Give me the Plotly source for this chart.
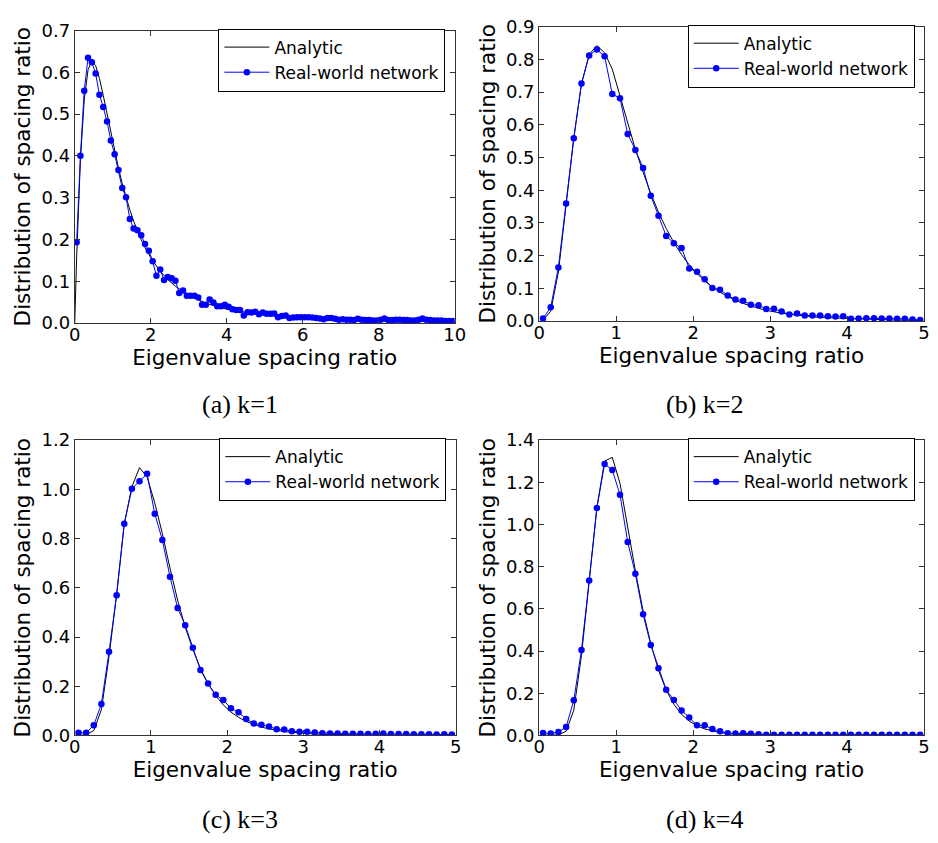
import plotly.graph_objects as go

# ---------------- data ----------------
# (a) k=1 : bin centres 0.05 ... 9.95
x_a = [round(0.05 + 0.1 * i, 2) for i in range(100)]
real_a = [0.193, 0.400, 0.556, 0.635, 0.624, 0.597, 0.546, 0.517, 0.482, 0.437,
          0.404, 0.366, 0.323, 0.301, 0.249, 0.226, 0.222, 0.210, 0.189, 0.173,
          0.148, 0.113, 0.128, 0.103, 0.110, 0.107, 0.101, 0.072, 0.078, 0.065,
          0.065, 0.065, 0.061, 0.044, 0.044, 0.056, 0.049, 0.040, 0.040, 0.044,
          0.039, 0.033, 0.031, 0.031, 0.018, 0.026, 0.025, 0.027, 0.021, 0.025,
          0.022, 0.022, 0.023, 0.014, 0.017, 0.018, 0.012, 0.013, 0.014, 0.014,
          0.014, 0.014, 0.013, 0.012, 0.011, 0.009, 0.012, 0.012, 0.010, 0.008,
          0.009, 0.008, 0.008, 0.007, 0.010, 0.008, 0.007, 0.007, 0.006, 0.006,
          0.008, 0.011, 0.007, 0.007, 0.008, 0.008, 0.007, 0.007, 0.006, 0.006,
          0.008, 0.011, 0.008, 0.007, 0.006, 0.006, 0.006, 0.005, 0.005, 0.005]
xan_a = [0, 0.05, 0.15, 0.25, 0.35, 0.45, 0.55, 0.65, 0.75, 0.85, 0.95, 1.05,
         1.15, 1.25, 1.35, 1.45, 1.55, 1.65, 1.75, 1.85, 1.95, 2.05, 2.25, 2.45,
         2.65, 2.85, 3.05, 3.5, 4, 5, 6, 7, 8, 9, 10]
an_a = [0.0, 0.156, 0.391, 0.534, 0.606, 0.627, 0.616, 0.585, 0.545, 0.500,
        0.455, 0.412, 0.371, 0.334, 0.301, 0.271, 0.244, 0.221, 0.199, 0.180,
        0.164, 0.149, 0.124, 0.104, 0.088, 0.075, 0.064, 0.046, 0.033, 0.019,
        0.012, 0.008, 0.005, 0.004, 0.003]

# (b)-(d) : bin centres 0.05 ... 4.95
x_5 = [round(0.05 + 0.1 * i, 2) for i in range(50)]
real_b = [0.008, 0.042, 0.164, 0.359, 0.559, 0.726, 0.812, 0.830, 0.809, 0.694,
          0.681, 0.572, 0.523, 0.468, 0.383, 0.322, 0.260, 0.238, 0.223, 0.161,
          0.151, 0.128, 0.101, 0.096, 0.078, 0.066, 0.062, 0.050, 0.048, 0.037,
          0.038, 0.029, 0.020, 0.023, 0.017, 0.017, 0.017, 0.015, 0.014, 0.015,
          0.007, 0.008, 0.009, 0.009, 0.008, 0.008, 0.007, 0.007, 0.005, 0.003]
an_b = [0.002, 0.030, 0.150, 0.350, 0.560, 0.725, 0.815, 0.842, 0.820, 0.770,
        0.690, 0.605, 0.525, 0.455, 0.390, 0.333, 0.283, 0.240, 0.203, 0.172,
        0.145, 0.123, 0.104, 0.088, 0.075, 0.063, 0.054, 0.046, 0.039, 0.033,
        0.028, 0.024, 0.021, 0.018, 0.015, 0.013, 0.011, 0.010, 0.009, 0.008,
        0.007, 0.006, 0.005, 0.0045, 0.004, 0.0035, 0.003, 0.0027, 0.0024, 0.002]
real_c = [0.011, 0.011, 0.042, 0.128, 0.340, 0.570, 0.860, 1.002, 1.033, 1.063,
          0.901, 0.794, 0.645, 0.518, 0.448, 0.356, 0.266, 0.211, 0.165, 0.144,
          0.111, 0.094, 0.067, 0.049, 0.044, 0.037, 0.025, 0.024, 0.017, 0.015,
          0.015, 0.012, 0.009, 0.008, 0.008, 0.007, 0.007, 0.007, 0.006, 0.007,
          0.008, 0.006, 0.006, 0.006, 0.005, 0.005, 0.005, 0.004, 0.005, 0.004]
an_c = [0.000, 0.003, 0.020, 0.105, 0.320, 0.575, 0.860, 1.010, 1.088, 1.050,
        0.945, 0.820, 0.680, 0.550, 0.440, 0.350, 0.272, 0.210, 0.162, 0.124,
        0.095, 0.074, 0.057, 0.044, 0.034, 0.027, 0.021, 0.016, 0.013, 0.010,
        0.008, 0.006, 0.005, 0.004, 0.003, 0.003, 0.002, 0.002, 0.002, 0.001,
        0.001, 0.001, 0.001, 0.001, 0.001, 0.001, 0.001, 0.001, 0.001, 0.001]
real_d = [0.012, 0.009, 0.017, 0.040, 0.167, 0.405, 0.735, 1.078, 1.287, 1.258,
          1.141, 0.917, 0.766, 0.575, 0.429, 0.319, 0.217, 0.168, 0.119, 0.085,
          0.048, 0.048, 0.031, 0.020, 0.011, 0.009, 0.011, 0.008, 0.006, 0.004,
          0.004, 0.003, 0.003, 0.003, 0.004, 0.003, 0.003, 0.003, 0.003, 0.003,
          0.003, 0.003, 0.003, 0.004, 0.003, 0.003, 0.003, 0.003, 0.003, 0.003]
an_d = [0.000, 0.000, 0.003, 0.020, 0.120, 0.380, 0.730, 1.080, 1.300, 1.318,
        1.195, 0.985, 0.780, 0.590, 0.435, 0.310, 0.215, 0.148, 0.100, 0.068,
        0.046, 0.031, 0.021, 0.014, 0.009, 0.006, 0.004, 0.003, 0.002, 0.0015,
        0.001, 0.001, 0.001, 0.001, 0.001, 0.001, 0.001, 0.001, 0.001, 0.001,
        0.001, 0.001, 0.001, 0.001, 0.001, 0.001, 0.001, 0.001, 0.001, 0.001]

captions = ["(a) k=1", "(b) k=2", "(c) k=3", "(d) k=4"]
x_title = "Eigenvalue spacing ratio"
y_title = "Distribution of spacing ratio"

# ---------------- layout helpers ----------------
W, H = 938, 843
def fx(px):
    return px / W
def fy(py):
    return 1 - py / H

panels = [
    # xs_real, real, xs_an, an, xdomain px, ydomain px, xrange, xdtick, yrange, ydtick
    (x_a, real_a, xan_a, an_a, (70, 457), (20, 320), [0, 10], 2, [0, 0.7], 0.1),
    (x_5, real_b, x_5, an_b, (543, 935), (16, 318), [0, 5], 1, [0, 0.9], 0.1),
    (x_5, real_c, x_5, an_c, (70, 458), (440, 743), [0, 5], 1, [0, 1.2], 0.2),
    (x_5, real_d, x_5, an_d, (543, 935), (440, 743), [0, 5], 1, [0, 1.4], 0.2),
]

FONT = "DejaVu Sans"
fig = go.Figure()
layout = dict(
    width=W, height=H,
    margin=dict(l=0, r=0, t=0, b=0),
    paper_bgcolor="white", plot_bgcolor="white",
    font=dict(family=FONT, color="black"),
    showlegend=True,
)
annotations = []
spine = "#333333"

for i, (xr, yr, xa, ya, xd, yd, xrng, xdt, yrng, ydt) in enumerate(panels):
    n = "" if i == 0 else str(i + 1)
    lg = "legend" if i == 0 else "legend" + str(i + 1)
    fig.add_trace(go.Scatter(
        x=xa, y=ya, mode="lines", name="Analytic",
        line=dict(color="black", width=1),
        xaxis="x" + n, yaxis="y" + n, legend=lg))
    fig.add_trace(go.Scatter(
        x=xr, y=yr, mode="lines+markers", name="Real-world network",
        line=dict(color="#0000FF", width=1),
        marker=dict(color="#0000FF", size=6.5, line=dict(width=0)),
        xaxis="x" + n, yaxis="y" + n, legend=lg))

    layout["xaxis" + n] = dict(
        domain=[fx(xd[0]), fx(xd[1])], anchor="y" + n,
        range=xrng, dtick=xdt, tick0=0,
        showgrid=False, zeroline=False,
        showline=True, mirror="ticks", linecolor=spine, linewidth=1,
        ticks="inside", ticklen=5, tickcolor=spine, tickwidth=1,
        ticklabelstandoff=-5,
        tickfont=dict(family=FONT, size=18, color="black"),
        title=dict(text=x_title, font=dict(family=FONT, size=21.5, color="black"),
                   standoff=0),
    )
    layout["yaxis" + n] = dict(
        domain=[fy(yd[1]), fy(yd[0])], anchor="x" + n,
        range=yrng, dtick=ydt, tick0=0, tickformat=".1f",
        showgrid=False, zeroline=False,
        showline=True, mirror="ticks", linecolor=spine, linewidth=1,
        ticks="inside", ticklen=5, tickcolor=spine, tickwidth=1,
        tickfont=dict(family=FONT, size=18, color="black"),
        title=dict(text=y_title, font=dict(family=FONT, size=21.5, color="black"),
                   standoff=4),
    )
    layout[lg] = dict(
        x=fx(xd[1] - 9.5), y=fy(yd[0] - 2), xanchor="right", yanchor="top",
        bgcolor="white", bordercolor="black", borderwidth=1,
        font=dict(family=FONT, size=17, color="black"),
        itemwidth=45, tracegroupgap=0,
    )
    cx = 238 if xd[0] < 300 else 711
    cy = 404 if yd[0] < 300 else 829
    annotations.append(dict(
        x=fx(cx), y=fy(cy), xref="paper", yref="paper",
        text=captions[i], showarrow=False, xanchor="center", yanchor="middle",
        font=dict(family="Liberation Serif", size=26, color="black")))

layout["annotations"] = annotations
fig.update_layout(**layout)
fig.write_html("out.html")
